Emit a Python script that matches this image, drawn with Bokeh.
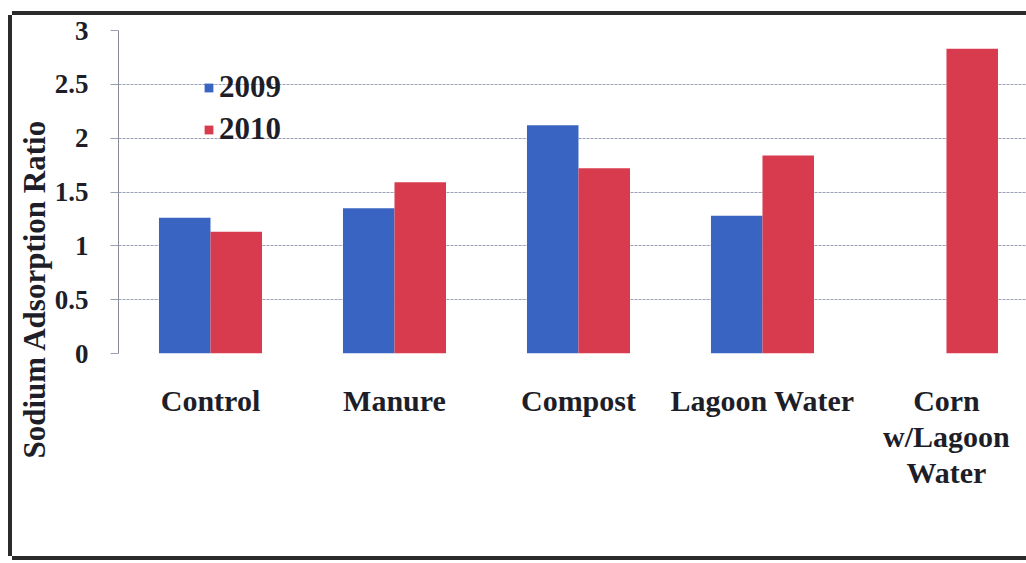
from bokeh.plotting import figure
from bokeh.models import ColumnDataSource, Range1d, FixedTicker, Title, Legend, LegendItem
from bokeh.embed import file_html
from bokeh.resources import INLINE

categories = ["Control", "Manure", "Compost", "Lagoon Water", "Corn\nw/Lagoon\nWater"]
sar_2009 = [1.26, 1.35, 2.12, 1.28, None]
sar_2010 = [1.13, 1.59, 1.72, 1.84, 2.83]
y_ticks = [0, 0.5, 1, 1.5, 2, 2.5, 3]

BLUE = "#3a64c2"
RED = "#d83b4d"
TXT = "#1e1e28"
FONT = "Liberation Serif"

p = figure(width=1014, height=541, output_backend="svg", toolbar_location=None,
           x_range=Range1d(-0.5, 4.435), y_range=Range1d(0, 3),
           min_border_left=106, min_border_top=15, min_border_bottom=203, min_border_right=0)
p.styles = {"margin-left": "12px", "margin-top": "15px",
            "box-shadow": "-4px 0 0 0 #2b2b2b, 0 -4px 0 0 #2b2b2b, 0 4px 0 0 #2b2b2b"}
p.outline_line_color = None
p.background_fill_color = "white"
p.border_fill_color = "white"

x09 = [i - 0.14 for i, v in enumerate(sar_2009) if v is not None]
v09 = [v for v in sar_2009 if v is not None]
x10 = [i + 0.14 for i in range(len(sar_2010))]

src09 = ColumnDataSource(dict(x=x09, top=v09))
src10 = ColumnDataSource(dict(x=x10, top=sar_2010))
r09 = p.vbar(x="x", top="top", width=0.28, source=src09, fill_color=BLUE, line_color=None)
r10 = p.vbar(x="x", top="top", width=0.28, source=src10, fill_color=RED, line_color=None)

# axes
p.xaxis.ticker = FixedTicker(ticks=list(range(len(categories))))
p.xaxis.major_label_overrides = {i: c for i, c in enumerate(categories)}
p.xaxis.axis_line_color = None
p.xaxis.major_tick_line_color = None
p.xaxis.minor_tick_line_color = None
p.xaxis.major_label_standoff = 24
p.xaxis.major_label_text_font = FONT
p.xaxis.major_label_text_font_style = "bold"
p.xaxis.major_label_text_font_size = "30px"
p.xaxis.major_label_text_color = TXT
p.xaxis.major_label_text_line_height = 1.1

p.yaxis.ticker = FixedTicker(ticks=y_ticks)
p.yaxis.major_label_overrides = {t: ("%g" % t) for t in y_ticks}
p.yaxis.axis_line_color = "#8a8a96"
p.yaxis.major_tick_line_color = "#9aa0b8"
p.yaxis.major_tick_out = 8
p.yaxis.major_tick_in = 0
p.yaxis.minor_tick_line_color = None
p.yaxis.major_label_standoff = 22
p.yaxis.major_label_text_font = FONT
p.yaxis.major_label_text_font_style = "bold"
p.yaxis.major_label_text_font_size = "27px"
p.yaxis.major_label_text_color = TXT

p.xgrid.grid_line_color = None
p.ygrid.grid_line_color = "#9aa0b8"
p.ygrid.grid_line_width = 1
p.ygrid.grid_line_dash = "3 1"

# y-axis title, starting below the frame like the original
p.add_layout(Title(text="Sodium Adsorption Ratio", align="left", offset=-105,
                   text_font=FONT, text_font_style="bold", text_font_size="31px",
                   text_color=TXT, standoff=0), "left")

legend = Legend(items=[LegendItem(label="2009", renderers=[r09]),
                       LegendItem(label="2010", renderers=[r10])],
                location=(85, 206), orientation="vertical",
                glyph_width=11, glyph_height=11, label_standoff=5,
                label_height=30, spacing=6, padding=0, margin=0,
                border_line_color=None, background_fill_alpha=0,
                label_text_font=FONT, label_text_font_style="bold",
                label_text_font_size="31px", label_text_color=TXT)
p.add_layout(legend)

open("out.html", "w").write(file_html(p, INLINE))
